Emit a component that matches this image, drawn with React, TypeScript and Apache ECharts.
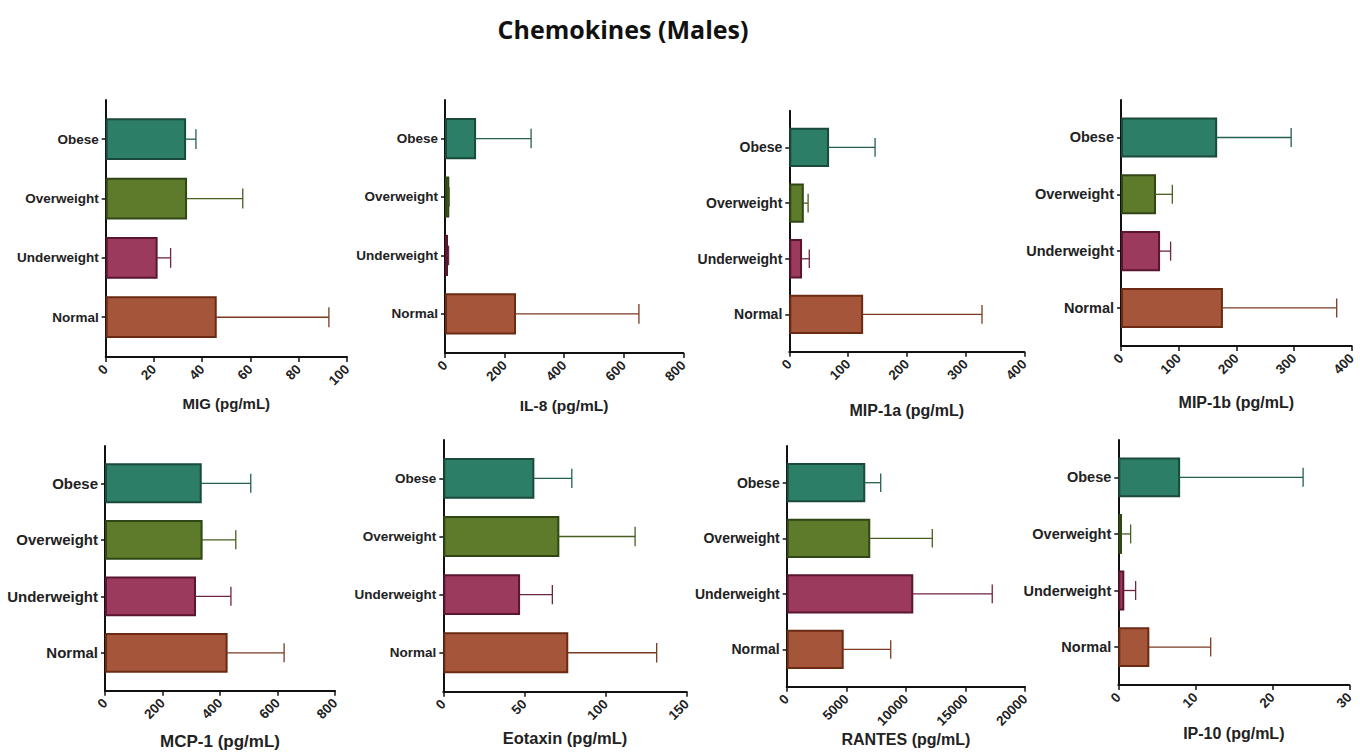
import React, { useEffect, useRef } from "react";
import * as echarts from "echarts";

// Category order: index 0 is the bottom row
const categories = ["Normal", "Underweight", "Overweight", "Obese"];

const migMean = [45.6, 21.1, 33.3, 32.9];
const migErr = [46.9, 5.8, 23.5, 4.5];
const il8Mean = [235, 5, 11, 101];
const il8Err = [416, 7, 3, 188];
const mip1aMean = [124, 20, 23, 66];
const mip1aErr = [204, 14, 9, 80];
const mip1bMean = [175, 66, 59, 165];
const mip1bErr = [199, 20, 30, 130];
const mcp1Mean = [423, 313, 336, 333];
const mcp1Err = [200, 125, 119, 174];
const eotaxinMean = [76.4, 46.7, 70.9, 55.5];
const eotaxinErr = [55.1, 20.5, 47.3, 23.7];
const rantesMean = [4700, 10540, 6930, 6510];
const rantesErr = [4030, 6710, 5290, 1380];
const ip10Mean = [3.9, 0.65, 0.35, 7.9];
const ip10Err = [8.1, 1.6, 1.25, 16.1];

const axisNames = [
  "MIG (pg/mL)",
  "IL-8 (pg/mL)",
  "MIP-1a (pg/mL)",
  "MIP-1b (pg/mL)",
  "MCP-1 (pg/mL)",
  "Eotaxin (pg/mL)",
  "RANTES (pg/mL)",
  "IP-10 (pg/mL)",
];
const axisMax = [100, 800, 400, 400, 800, 150, 20000, 30];
const axisInterval = [20, 200, 100, 100, 200, 50, 5000, 10];
const means = [migMean, il8Mean, mip1aMean, mip1bMean, mcp1Mean, eotaxinMean, rantesMean, ip10Mean];
const errs = [migErr, il8Err, mip1aErr, mip1bErr, mcp1Err, eotaxinErr, rantesErr, ip10Err];

// layout (pixels): left, top, right edge, bottom edge
const panels = [
  { l: 105.7, t: 100, r: 347, b: 357, name: 403, cat: 13.5, nf: 15 },
  { l: 445, t: 100, r: 683.3, b: 353, name: 405, cat: 13.5, nf: 15.5 },
  { l: 789.3, t: 110.7, r: 1024.3, b: 351.7, name: 410, cat: 14, nf: 16 },
  { l: 1121, t: 100, r: 1351.7, b: 346, name: 402, cat: 14.5, nf: 16 },
  { l: 105, t: 446, r: 335, b: 690.7, name: 741.7, cat: 15, nf: 17 },
  { l: 443.3, t: 440, r: 686.7, b: 691.7, name: 738, cat: 13.5, nf: 16.5 },
  { l: 786.7, t: 446, r: 1025, b: 686.7, name: 735.7, cat: 14, nf: 16 },
  { l: 1118.3, t: 440, r: 1349.3, b: 685, name: 733, cat: 14.5, nf: 16 },
];

const fills = ["#a5563a", "#9c3a5e", "#5e7a2b", "#2d7e67"];
const strokes = ["#6b2a12", "#5a1530", "#2f4615", "#1a4a3b"];
const errColors = ["#7a3a22", "#6e2444", "#475e20", "#24604f"];

const FONT = "'Liberation Sans', Arial, sans-serif";

export default function App() {
  const ref = useRef<HTMLDivElement>(null);
  useEffect(() => {
    if (!ref.current) return;
    const chart = echarts.init(ref.current, null, { renderer: "svg" });
    const grid: any[] = [];
    const xAxis: any[] = [];
    const yAxis: any[] = [];
    const series: any[] = [];
    panels.forEach((p, i) => {
      grid.push({ left: p.l, top: p.t, width: p.r - p.l, height: p.b - p.t, containLabel: false });
      xAxis.push({
        type: "value",
        gridIndex: i,
        min: 0,
        max: axisMax[i],
        interval: axisInterval[i],
        name: axisNames[i],
        nameLocation: "middle",
        nameGap: p.name - p.b - p.nf / 2,
        nameTextStyle: { fontFamily: FONT, fontWeight: "bold", fontSize: p.nf, color: "#222" },
        axisLine: { show: true, onZero: false, lineStyle: { color: "#111", width: 2 } },
        axisTick: { show: true, length: 5, lineStyle: { color: "#111", width: 1.5 } },
        axisLabel: {
          rotate: 45,
          margin: 10,
          fontFamily: FONT,
          fontWeight: "bold",
          fontSize: 13.5,
          color: "#222",
          formatter: (v: number) => String(v),
        },
        splitLine: { show: false },
      });
      yAxis.push({
        type: "value",
        gridIndex: i,
        min: -0.67,
        max: 3.66,
        axisLine: { show: true, onZero: false, lineStyle: { color: "#111", width: 2 } },
        axisTick: { show: true, length: 4, customValues: [0, 1, 2, 3], lineStyle: { color: "#111", width: 1.5 } },
        axisLabel: {
          customValues: [0, 1, 2, 3],
          margin: 7,
          fontFamily: FONT,
          fontWeight: "bold",
          fontSize: p.cat,
          color: "#222",
          formatter: (v: number) => categories[Math.round(v)] ?? "",
        },
        splitLine: { show: false },
      });
      const data = categories.map((_, k) => [means[i][k], k, errs[i][k]]);
      series.push({
        type: "custom",
        xAxisIndex: i,
        yAxisIndex: i,
        data,
        encode: { x: 0, y: 1 },
        renderItem: (params: any, api: any) => {
          const val = api.value(0);
          const cat = api.value(1);
          const err = api.value(2);
          const k = Math.round(cat);
          const s = api.coord([0, cat]);
          const e = api.coord([val, cat]);
          const ee = api.coord([val + err, cat]);
          const bh = api.size([0, 0.67])[1];
          const cap = bh * 0.5;
          return {
            type: "group",
            children: [
              {
                type: "rect",
                shape: { x: s[0] + 1, y: s[1] - bh / 2, width: Math.max(e[0] - s[0] - 1, 1), height: bh },
                style: { fill: fills[k], stroke: strokes[k], lineWidth: 2 },
              },
              {
                type: "line",
                shape: { x1: e[0], y1: e[1], x2: ee[0], y2: ee[1] },
                style: { stroke: errColors[k], lineWidth: 1.3 },
              },
              {
                type: "line",
                shape: { x1: ee[0], y1: ee[1] - cap / 2, x2: ee[0], y2: ee[1] + cap / 2 },
                style: { stroke: errColors[k], lineWidth: 1.3 },
              },
            ],
          };
        },
      });
    });
    chart.setOption({
      animation: false,
      backgroundColor: "#ffffff",
      title: {
        text: "Chemokines (Males)",
        left: 618,
        textAlign: "center",
        top: 11,
        textStyle: { fontFamily: "'Open Sans', Lato, sans-serif", fontWeight: "bold", fontSize: 25, color: "#111" },
      },
      grid,
      xAxis,
      yAxis,
      series,
    });
    return () => chart.dispose();
  }, []);
  return (
    <div
      ref={ref}
      style={{ position: "fixed", left: 0, top: 0, width: 1360, height: 752, background: "#fff" }}
    />
  );
}
